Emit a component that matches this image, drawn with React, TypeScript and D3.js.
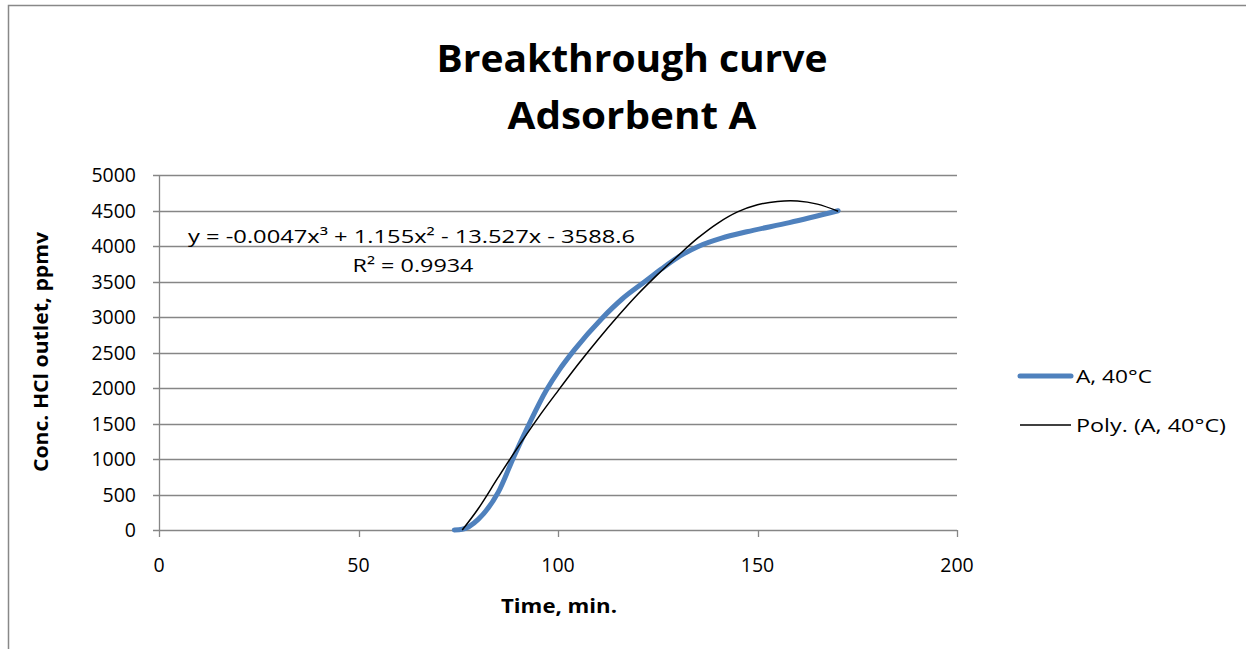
import React, { useEffect, useRef } from 'react';
import * as d3 from 'd3';

// measured points, A at 40°C
const timeA = [74, 76, 80, 85, 89, 93, 97, 100.5, 104, 111, 116, 121.8, 126, 130.6, 135, 141, 147.3, 158, 170.2];
const concA = [0, 10, 150, 530, 1040, 1520, 1960, 2270, 2530, 2980, 3250, 3500, 3680, 3860, 3990, 4110, 4200, 4330, 4497];

// polynomial trendline as drawn
const timePoly = [76, 80, 85, 90, 95, 100, 105, 110, 115, 120, 125, 130, 135, 140, 145, 150, 155, 160, 165, 170.2];
const concPoly = [0, 300, 740, 1170, 1580, 1960, 2330, 2680, 3010, 3320, 3600, 3860, 4110, 4320, 4480, 4580, 4628, 4634, 4590, 4490];

const xTicks = [0, 50, 100, 150, 200];
const yTicks = [0, 500, 1000, 1500, 2000, 2500, 3000, 3500, 4000, 4500, 5000];

const titleLines = ['Breakthrough curve', 'Adsorbent A'];
const equationText = 'y = -0.0047x³ + 1.155x² - 13.527x - 3588.6';
const r2Text = 'R² = 0.9934';
const legendNames = ['A, 40°C', 'Poly. (A, 40°C)'];

const App = () => {
  const ref = useRef<SVGSVGElement>(null);

  useEffect(() => {
    const svg = d3.select(ref.current);
    svg.selectAll('*').remove();
    const font = 'Open Sans, Liberation Sans, sans-serif';

    // outer chart border (top and left visible)
    svg.append('path')
      .attr('d', 'M8.5,700 L8.5,5.5 L1246,5.5')
      .attr('fill', 'none')
      .attr('stroke', '#888')
      .attr('stroke-width', 1.5);

    const x = d3.scaleLinear().domain([0, 200]).range([159, 957]);
    const y = d3.scaleLinear().domain([0, 5000]).range([530, 175]);

    // gridlines
    svg.append('g')
      .selectAll('line')
      .data(yTicks)
      .join('line')
      .attr('x1', x(0) - 6)
      .attr('x2', x(200))
      .attr('y1', d => Math.round(y(d)) + 0.5)
      .attr('y2', d => Math.round(y(d)) + 0.5)
      .attr('stroke', '#868686')
      .attr('stroke-width', 1.3);

    // y axis
    svg.append('line')
      .attr('x1', x(0) + 0.5).attr('x2', x(0) + 0.5)
      .attr('y1', y(5000)).attr('y2', y(0))
      .attr('stroke', '#868686').attr('stroke-width', 1.3);

    svg.append('g')
      .selectAll('text')
      .data(yTicks)
      .join('text')
      .attr('x', 136)
      .attr('y', d => y(d) + 7)
      .attr('text-anchor', 'end')
      .attr('font-family', font)
      .attr('font-size', 19.5)
      .text(d => d);

    // x axis ticks
    svg.append('g')
      .selectAll('line')
      .data(xTicks)
      .join('line')
      .attr('x1', d => Math.round(x(d)) + 0.5)
      .attr('x2', d => Math.round(x(d)) + 0.5)
      .attr('y1', y(0))
      .attr('y2', y(0) + 7)
      .attr('stroke', '#868686').attr('stroke-width', 1.3);

    svg.append('g')
      .selectAll('text')
      .data(xTicks)
      .join('text')
      .attr('x', d => x(d))
      .attr('y', 572)
      .attr('text-anchor', 'middle')
      .attr('font-family', font)
      .attr('font-size', 19.5)
      .text(d => d);

    // axis titles
    svg.append('text')
      .attr('x', 559).attr('y', 613)
      .attr('text-anchor', 'middle')
      .attr('font-family', font)
      .attr('font-weight', 'bold')
      .attr('font-size', 19)
      .attr('textLength', 116)
      .attr('lengthAdjust', 'spacingAndGlyphs')
      .text('Time, min.');

    svg.append('text')
      .attr('transform', 'translate(48,352) rotate(-90)')
      .attr('text-anchor', 'middle')
      .attr('font-family', font)
      .attr('font-weight', 'bold')
      .attr('font-size', 19)
      .attr('textLength', 240)
      .attr('lengthAdjust', 'spacingAndGlyphs')
      .text('Conc. HCl outlet, ppmv');

    // title
    const titleWidths = [391, 249];
    svg.append('g')
      .selectAll('text')
      .data(titleLines)
      .join('text')
      .attr('x', 632)
      .attr('y', (d, i) => 72 + i * 57)
      .attr('text-anchor', 'middle')
      .attr('font-family', font)
      .attr('font-weight', 'bold')
      .attr('font-size', 37)
      .attr('textLength', (d, i) => titleWidths[i])
      .attr('lengthAdjust', 'spacingAndGlyphs')
      .text(d => d);

    // series
    const seriesA = timeA.map((t, i) => [t, concA[i]] as [number, number]);
    const seriesPoly = timePoly.map((t, i) => [t, concPoly[i]] as [number, number]);

    svg.append('path')
      .datum(seriesA)
      .attr('fill', 'none')
      .attr('stroke', '#4F81BD')
      .attr('stroke-width', 5)
      .attr('stroke-linecap', 'round')
      .attr('d', d3.line<[number, number]>()
        .curve(d3.curveMonotoneX)
        .x(d => x(d[0]))
        .y(d => y(d[1])));

    svg.append('path')
      .datum(seriesPoly)
      .attr('fill', 'none')
      .attr('stroke', '#000')
      .attr('stroke-width', 1.5)
      .attr('d', d3.line<[number, number]>()
        .curve(d3.curveCatmullRom)
        .x(d => x(d[0]))
        .y(d => y(d[1])));

    // trendline label
    svg.append('text')
      .attr('x', 411.5).attr('y', 243)
      .attr('text-anchor', 'middle')
      .attr('font-family', font)
      .attr('font-size', 19)
      .attr('textLength', 447)
      .attr('lengthAdjust', 'spacingAndGlyphs')
      .text(equationText);
    svg.append('text')
      .attr('x', 413).attr('y', 272)
      .attr('text-anchor', 'middle')
      .attr('font-family', font)
      .attr('font-size', 19)
      .attr('textLength', 121)
      .attr('lengthAdjust', 'spacingAndGlyphs')
      .text(r2Text);

    // legend
    const legendWidths = [76, 150];
    const legend = svg.append('g');
    legendNames.forEach((name, i) => {
      const ly = 376 + i * 49;
      legend.append('line')
        .attr('x1', 1020).attr('x2', 1071)
        .attr('y1', ly).attr('y2', ly)
        .attr('stroke', i === 0 ? '#4F81BD' : '#000')
        .attr('stroke-width', i === 0 ? 5 : 1.5)
        .attr('stroke-linecap', i === 0 ? 'round' : 'butt');
      legend.append('text')
        .attr('x', 1076).attr('y', ly + 7)
        .attr('font-family', font)
        .attr('font-size', 19)
        .attr('textLength', legendWidths[i])
        .attr('lengthAdjust', 'spacingAndGlyphs')
        .text(name);
    });
  }, []);

  return (
    <svg
      ref={ref}
      width={1255}
      height={649}
      style={{ position: 'absolute', left: 0, top: 0, background: '#fff' }}
    />
  );
};

export default App;
